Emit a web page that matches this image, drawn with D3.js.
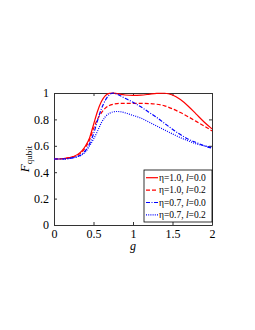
<!DOCTYPE html>
<html>
<meta charset="utf-8">
<style>
body { margin: 0; background: white; }
text { font-family: "Liberation Serif", "DejaVu Serif", serif; }
</style>
<head>
<script src="https://d3js.org/d3.v7.min.js"></script>
</head>
<body>
<script>
// values
var gVals = [0, 0.1, 0.2, 0.3, 0.35, 0.4, 0.45, 0.5, 0.55, 0.6, 0.65, 0.7, 0.75, 0.8, 0.9, 1.0, 1.1, 1.2, 1.3, 1.4, 1.5, 1.6, 1.7, 1.8, 1.9, 2.0];
var fEta10L00 = [0.5, 0.502, 0.51, 0.535, 0.56, 0.6, 0.66, 0.76, 0.86, 0.935, 0.98, 0.997, 1.0, 0.995, 0.985, 0.982, 0.984, 0.99, 0.997, 0.998, 0.985, 0.95, 0.9, 0.84, 0.78, 0.728];
var fEta10L02 = [0.5, 0.502, 0.51, 0.53, 0.55, 0.59, 0.645, 0.73, 0.8, 0.85, 0.885, 0.905, 0.915, 0.92, 0.922, 0.922, 0.922, 0.92, 0.915, 0.903, 0.88, 0.852, 0.82, 0.785, 0.75, 0.713];
var fEta07L00 = [0.5, 0.5, 0.505, 0.52, 0.535, 0.565, 0.615, 0.69, 0.79, 0.88, 0.945, 0.985, 1.0, 0.99, 0.96, 0.93, 0.895, 0.855, 0.815, 0.77, 0.725, 0.685, 0.65, 0.625, 0.6, 0.582];
var fEta07L02 = [0.5, 0.5, 0.505, 0.518, 0.53, 0.555, 0.6, 0.65, 0.71, 0.775, 0.82, 0.845, 0.857, 0.86, 0.85, 0.83, 0.81, 0.78, 0.75, 0.72, 0.69, 0.662, 0.637, 0.615, 0.6, 0.587];
var etaLabels = ["1.0", "1.0", "0.7", "0.7"];
var lLabels = ["0.0", "0.2", "0.0", "0.2"];
var xTicks = [0, 0.5, 1, 1.5, 2];
var yTicks = [0, 0.2, 0.4, 0.6, 0.8, 1];

var series = [
  {vals: fEta10L00, color: "#ff0000", dash: null},
  {vals: fEta10L02, color: "#ff0000", dash: "4,2"},
  {vals: fEta07L00, color: "#0000ff", dash: "4,1.5,1,1.5"},
  {vals: fEta07L02, color: "#0000ff", dash: "1,1.2"}
];

var margin = {top: 93, left: 54},
    width = 158, height = 132;

var svg = d3.select("body").append("svg")
  .attr("width", 255).attr("height", 330);

var g = svg.append("g")
  .attr("transform", "translate(" + margin.left + "," + margin.top + ")");

var x = d3.scaleLinear().domain([0, 2]).range([0, width]);
var y = d3.scaleLinear().domain([0, 1]).range([height, 0]);

var fmt = function(d){ return d3.format("")(d); };

// axes with inward ticks, mirrored on top/right
g.append("g").attr("transform", "translate(0," + height + ")")
  .call(d3.axisBottom(x).tickValues(xTicks).tickSizeInner(-3).tickSizeOuter(0).tickPadding(4).tickFormat(fmt));
g.append("g")
  .call(d3.axisTop(x).tickValues(xTicks).tickSizeInner(-3).tickSizeOuter(0).tickFormat(""));
g.append("g")
  .call(d3.axisLeft(y).tickValues(yTicks).tickSizeInner(-3).tickSizeOuter(0).tickPadding(5).tickFormat(fmt));
g.append("g").attr("transform", "translate(" + width + ",0)")
  .call(d3.axisRight(y).tickValues(yTicks).tickSizeInner(-3).tickSizeOuter(0).tickFormat(""));

g.selectAll(".domain").attr("stroke", "#333").attr("stroke-width", 1);
g.selectAll(".tick line").attr("stroke", "#333");
g.selectAll(".tick text")
  .style("font-family", "'Liberation Serif', serif")
  .style("font-size", "12px").attr("fill", "#000");

var line = d3.line()
  .x(function(d, i){ return x(gVals[i]); })
  .y(function(d){ return y(d); })
  .curve(d3.curveMonotoneX);

g.selectAll("path.curve")
  .data(series)
  .enter().append("path")
  .attr("class", "curve")
  .attr("fill", "none")
  .attr("stroke", function(d){ return d.color; })
  .attr("stroke-width", 1.2)
  .attr("stroke-dasharray", function(d){ return d.dash; })
  .attr("d", function(d){ return line(d.vals); });

// legend
var lg = g.append("g").attr("transform", "translate(" + (width - 68) + "," + (height - 55) + ")");
lg.append("rect")
  .attr("x", 0).attr("y", 0).attr("width", 68).attr("height", 52)
  .attr("fill", "white").attr("stroke", "#000").attr("stroke-width", 0.8);

var items = lg.selectAll("g.item").data(series)
  .enter().append("g").attr("class", "item")
  .attr("transform", function(d, i){ return "translate(0," + (7.7 + i * 12.4) + ")"; });
items.append("line")
  .attr("x1", 2).attr("x2", 14).attr("y1", 0).attr("y2", 0)
  .attr("stroke", function(d){ return d.color; })
  .attr("stroke-width", 1.2)
  .attr("stroke-dasharray", function(d){ return d.dash; });
var lt = items.append("text")
  .attr("x", 15).attr("y", 3.2)
  .style("font-size", "9.5px");
lt.append("tspan").text(function(d, i){ return "\u03b7=" + etaLabels[i] + ", "; });
lt.append("tspan").style("font-style", "italic").text("l");
lt.append("tspan").text(function(d, i){ return "=" + lLabels[i]; });

// axis labels
svg.append("text")
  .attr("x", margin.left + width / 2).attr("y", 250)
  .attr("text-anchor", "middle")
  .style("font-size", "12px").style("font-style", "italic")
  .text("g");

var yl = svg.append("text")
  .attr("transform", "translate(29," + (margin.top + height / 2) + ") rotate(-90)")
  .attr("text-anchor", "middle")
  .style("font-size", "13px");
yl.append("tspan").style("font-style", "italic").text("F");
yl.append("tspan").attr("dy", 3).style("font-size", "9px").text("qubit");
</script>
</body>
</html>
